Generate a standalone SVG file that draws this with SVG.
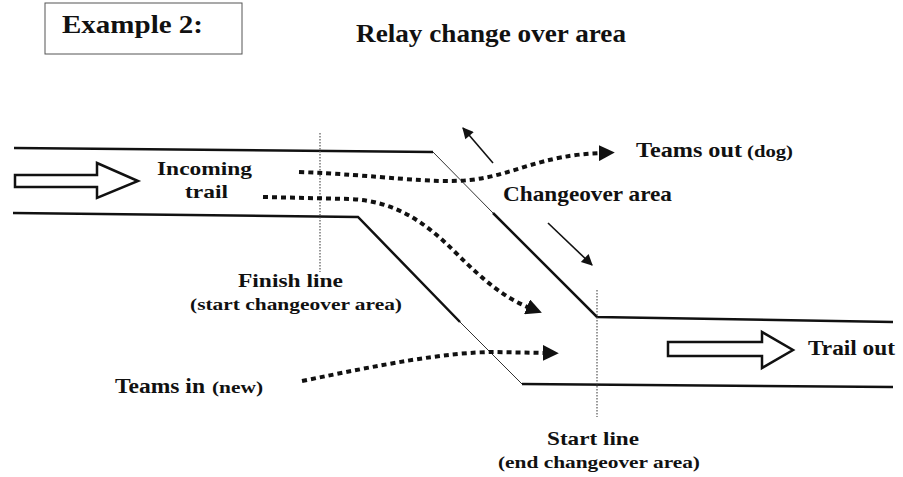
<svg xmlns="http://www.w3.org/2000/svg" width="903" height="477" viewBox="0 0 903 477">
<style>
text{font-family:"Liberation Serif","Times New Roman",serif;font-weight:bold;fill:#111}
.trail{stroke:#111;stroke-width:2.5;fill:none}
.thin{stroke:#333;stroke-width:1;fill:none}
.vline{stroke:#555;stroke-width:1.2;stroke-dasharray:1.5 1.5;fill:none}
.path{stroke:#111;stroke-width:4;stroke-dasharray:5 4;fill:none}
.small{stroke:#111;stroke-width:1.6;fill:none}
.hollow{fill:#fff;stroke:#111;stroke-width:2.5;stroke-linejoin:miter}
</style>
<defs>
<marker id="head" viewBox="0 0 10 10" refX="2" refY="5" markerWidth="4" markerHeight="4" orient="auto" markerUnits="strokeWidth">
<path d="M0,0 L10,5 L0,10 Z" fill="#111"/>
</marker>
<marker id="shead" viewBox="0 0 10 10" refX="9" refY="5" markerWidth="8" markerHeight="7" orient="auto" markerUnits="strokeWidth">
<path d="M0,0 L10,5 L0,10 Z" fill="#111"/>
</marker>
</defs>

<g id="example-label">
<rect x="45" y="3" width="197" height="51" fill="none" stroke="#555" stroke-width="1"/>
<text x="62" y="33" font-size="25" textLength="141" lengthAdjust="spacingAndGlyphs">Example 2:</text>
</g>
<g id="title">
<text x="356" y="42" font-size="25" textLength="270" lengthAdjust="spacingAndGlyphs">Relay change over area</text>
</g>

<g id="trail">
<path class="trail" d="M14,148 L433,152"/>
<path class="thin" d="M433,152 L493,213"/>
<path class="trail" d="M493,213 L597,317 L893,322"/>
<path class="trail" d="M13,213 L358,217 L460,322"/>
<path class="thin" d="M460,322 L522,384"/>
<path class="trail" d="M522,384 L893,387"/>
</g>

<g id="finish-line">
<line class="vline" x1="320" y1="133" x2="320" y2="272"/>
<text x="238" y="287" font-size="19" textLength="105" lengthAdjust="spacingAndGlyphs">Finish line</text>
<text x="190" y="310" font-size="17" textLength="212" lengthAdjust="spacingAndGlyphs">(start changeover area)</text>
</g>

<g id="start-line">
<line class="vline" x1="597" y1="290" x2="597" y2="417"/>
<text x="547" y="445" font-size="19" textLength="92" lengthAdjust="spacingAndGlyphs">Start line</text>
<text x="498" y="468" font-size="17" textLength="202" lengthAdjust="spacingAndGlyphs">(end changeover area)</text>
</g>

<g id="incoming-trail">
<path class="hollow" d="M15,175 L97,175 L97,163 L138,181 L97,198 L97,187 L15,187 Z"/>
<text x="157" y="175" font-size="19" textLength="95" lengthAdjust="spacingAndGlyphs">Incoming</text>
<text x="185" y="198" font-size="19" textLength="43" lengthAdjust="spacingAndGlyphs">trail</text>
</g>

<g id="trail-out">
<path class="hollow" d="M668,342 L762,342 L762,332 L793,350 L762,368 L762,356 L668,356 Z"/>
<text x="808" y="355" font-size="20" textLength="87" lengthAdjust="spacingAndGlyphs">Trail out</text>
</g>

<g id="teams-out">
<text x="636" y="157" font-size="21" textLength="106" lengthAdjust="spacingAndGlyphs">Teams out</text>
<text x="747" y="157" font-size="17" textLength="46" lengthAdjust="spacingAndGlyphs">(dog)</text>
</g>

<g id="changeover-area">
<text x="503" y="201" font-size="21" textLength="169" lengthAdjust="spacingAndGlyphs">Changeover area</text>
</g>

<g id="teams-in">
<text x="115" y="393" font-size="20" textLength="90" lengthAdjust="spacingAndGlyphs">Teams in</text>
<text x="212" y="393" font-size="17" textLength="51" lengthAdjust="spacingAndGlyphs">(new)</text>
</g>

<g id="connectors">
<path class="path" marker-end="url(#head)" d="M299,172 C380,175 430,184 470,180 C515,175 540,155 602,153"/>
<path class="path" marker-end="url(#head)" d="M263,197 L350,199 C395,201 425,222 455,252 C485,282 505,298 530,308"/>
<path class="path" marker-end="url(#head)" d="M302,381 C380,365 445,352 495,352 L546,353"/>
<line class="small" marker-end="url(#shead)" x1="493" y1="163" x2="463" y2="128"/>
<line class="small" marker-end="url(#shead)" x1="548" y1="223" x2="592" y2="265"/>
</g>
</svg>
